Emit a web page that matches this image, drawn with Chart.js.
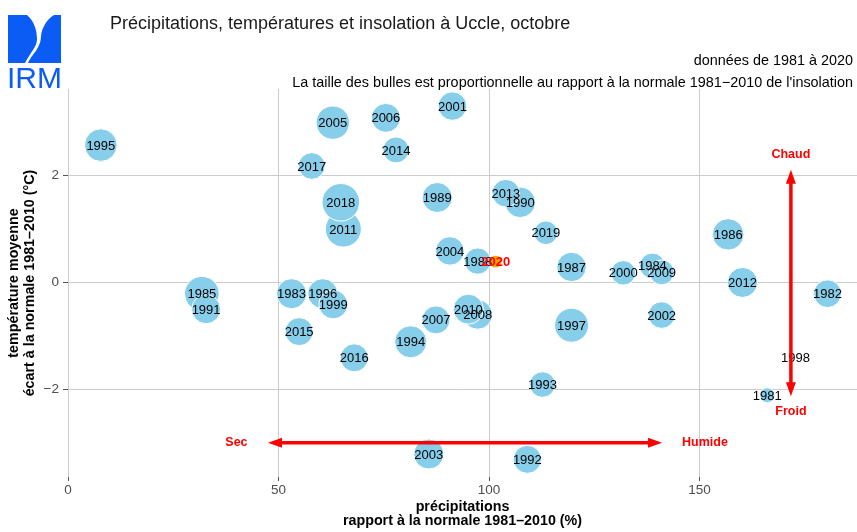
<!DOCTYPE html>
<html>
<head>
<meta charset="utf-8">
<script src="https://cdn.jsdelivr.net/npm/chart.js@4.4.0/dist/chart.umd.min.js"></script>
<style>
html, body { margin: 0; padding: 0; background: #fff; }
#wrap { position: relative; width: 857px; height: 532px; }
#chart { position: absolute; left: 0; top: 0; }
#head { position: absolute; left: 0; top: 0; pointer-events: none; }
</style>
</head>
<body>
<div id="wrap">
<canvas id="chart" width="857" height="532"></canvas>
<svg id="head" width="857" height="100" font-family="'Liberation Sans', Arial, sans-serif">
  <path d="M8,15 H27 C34,21 37,30 37,39 C37,47 30,53 25,63 H8 Z" fill="#0a5cf5"/>
  <path d="M61,15 V63 H28 C31,56 35,53 37,49 C40,44 41,40 41,36 C42,28 46,20 54,15 Z" fill="#0a5cf5"/>
  <text x="34.5" y="88" font-size="30" text-anchor="middle" fill="#0a5cf5">IRM</text>
  <text x="110" y="29" font-size="18" fill="#1a1a1a">Précipitations, températures et insolation à Uccle, octobre</text>
  <text x="853" y="65" font-size="14.4" text-anchor="end" fill="#000">données de 1981 à 2020</text>
  <text x="853" y="87" font-size="14.4" text-anchor="end" fill="#000">La taille des bulles est proportionnelle au rapport à la normale 1981−2010 de l'insolation</text>
</svg>
</div>
<script>
// octobre, Uccle : une bulle par année
var years = [1981, 1982, 1983, 1984, 1985, 1986, 1987, 1988, 1989, 1990,
             1991, 1992, 1993, 1994, 1995, 1996, 1997, 1998, 1999, 2000,
             2001, 2002, 2003, 2004, 2005, 2006, 2007, 2008, 2009, 2010,
             2011, 2012, 2013, 2014, 2015, 2016, 2017, 2018, 2019, 2020];
// précipitations, rapport à la normale (%)
var precip = [166.1, 180.4, 53.1, 138.8, 31.8, 156.8, 119.6, 97.3, 87.7, 107.4,
              32.8, 109.1, 112.7, 81.4, 7.8, 60.5, 119.6, 172.8, 63.0, 131.9,
              91.3, 141.0, 85.7, 90.7, 62.9, 75.5, 87.4, 97.3, 141.0, 95.1,
              65.4, 160.2, 104.0, 77.9, 54.9, 68.0, 57.9, 64.8, 113.5, 101.6];
// température moyenne, écart à la normale (°C)
var tempAnom = [-2.11, -0.21, -0.21, 0.31, -0.21, 0.90, 0.29, 0.40, 1.59, 1.50,
                -0.50, -3.31, -1.91, -1.11, 2.57, -0.21, -0.80, -1.41, -0.41, 0.18,
                3.30, -0.61, -3.21, 0.59, 2.99, 3.08, -0.70, -0.60, 0.19, -0.50,
                1.00, 0.00, 1.67, 2.48, -0.92, -1.41, 2.18, 1.50, 0.93, 0.39];
// insolation, rapport à la normale (%)
var insolRatio = [25, 85, 100, 73, 133, 110, 96, 77, 100, 104,
                  93, 87, 73, 114, 118, 100, 128, 0, 93, 67,
                  90, 79, 100, 90, 124, 93, 87, 96, 69, 100,
                  144, 100, 85, 75, 87, 87, 79, 157, 62, 18];

var xTicks = [0, 50, 100, 150];
var yTicks = [-2, 0, 2];

// flèches Sec/Humide et Froid/Chaud (en unités des axes)
var arrowPrecipX = [47.5, 141.1];
var arrowPrecipY = -3;
var arrowTempX = 171.7;
var arrowTempY = [-2.13, 2.11];
var arrowLabels = ['Sec', 'Humide', 'Froid', 'Chaud'];
var arrowLabelX = [40, 151.3, 171.7, 171.7];
var arrowLabelY = [-3, -3, -2.42, 2.4];

var FONT = '"Liberation Sans", Arial, Helvetica, sans-serif';
Chart.defaults.font.family = FONT;

var bubbles = years.map(function (yr, i) {
    return { x: precip[i], y: tempAnom[i], r: 1.5 * Math.sqrt(insolRatio[i]) };
});

var yearLabels = {
    id: 'yearLabels',
    afterDatasetsDraw: function (chart) {
        var ctx = chart.ctx;
        var meta = chart.getDatasetMeta(0);
        ctx.save();
        ctx.textAlign = 'center';
        ctx.textBaseline = 'middle';
        meta.data.forEach(function (el, i) {
            var current = years[i] === 2020;
            ctx.font = (current ? 'bold ' : '') + '13px ' + FONT;
            ctx.fillStyle = current ? '#ff0000' : '#000000';
            ctx.fillText(String(years[i]), el.x, el.y + 1);
        });
        ctx.restore();
    }
};

function drawHead(ctx, x, y, dx, dy) {
    // pointe en (x,y), direction (dx,dy)
    var len = 14, half = 5;
    ctx.beginPath();
    ctx.moveTo(x, y);
    ctx.lineTo(x - dx * len - dy * half, y - dy * len + dx * half);
    ctx.lineTo(x - dx * len + dy * half, y - dy * len - dx * half);
    ctx.closePath();
    ctx.fill();
}

var arrows = {
    id: 'arrows',
    afterDraw: function (chart) {
        var ctx = chart.ctx;
        var xs = chart.scales.x, ys = chart.scales.y;
        ctx.save();
        ctx.strokeStyle = '#ff0000';
        ctx.fillStyle = '#ff0000';
        ctx.lineWidth = 3.5;

        var hx1 = xs.getPixelForValue(arrowPrecipX[0]);
        var hx2 = xs.getPixelForValue(arrowPrecipX[1]);
        var hy = ys.getPixelForValue(arrowPrecipY);
        ctx.beginPath();
        ctx.moveTo(hx1 + 10, hy);
        ctx.lineTo(hx2 - 10, hy);
        ctx.stroke();
        drawHead(ctx, hx1, hy, -1, 0);
        drawHead(ctx, hx2, hy, 1, 0);

        var vx = xs.getPixelForValue(arrowTempX);
        var vy1 = ys.getPixelForValue(arrowTempY[0]);
        var vy2 = ys.getPixelForValue(arrowTempY[1]);
        ctx.beginPath();
        ctx.moveTo(vx, vy1 - 10);
        ctx.lineTo(vx, vy2 + 10);
        ctx.stroke();
        drawHead(ctx, vx, vy1, 0, 1);
        drawHead(ctx, vx, vy2, 0, -1);

        ctx.font = 'bold 12.5px ' + FONT;
        ctx.textAlign = 'center';
        ctx.textBaseline = 'middle';
        arrowLabels.forEach(function (t, i) {
            ctx.fillText(t, xs.getPixelForValue(arrowLabelX[i]), ys.getPixelForValue(arrowLabelY[i]));
        });
        ctx.restore();
    }
};

var config = {
    type: 'bubble',
    data: {
        datasets: [{
            data: bubbles,
            backgroundColor: years.map(function (yr) { return yr === 2020 ? '#ffa500' : '#87ceeb'; }),
            borderColor: '#ffffff',
            borderWidth: insolRatio.map(function (v) { return v > 0 ? 1 : 0; }),
            hoverRadius: 0,
            clip: false
        }]
    },
    options: {
        responsive: false,
        devicePixelRatio: 1,
        animation: false,
        events: [],
        layout: { autoPadding: false, padding: { top: 89, right: 0, left: 0, bottom: 0 } },
        plugins: {
            legend: { display: false },
            tooltip: { enabled: false }
        },
        scales: {
            x: {
                type: 'linear',
                min: 0,
                max: 187.4,
                afterBuildTicks: function (s) { s.ticks = xTicks.map(function (v) { return { value: v }; }); },
                afterFit: function (s) { s.height = 55; },
                grid: { color: '#cccccc', tickLength: 4, tickColor: '#555555' },
                border: { display: false },
                ticks: { padding: 1, color: '#4d4d4d', font: { size: 13.5 }, maxRotation: 0 },
                title: {
                    display: true,
                    text: ['précipitations', 'rapport à la normale 1981–2010 (%)'],
                    color: '#000',
                    font: { size: 14.3, weight: 'bold', lineHeight: '14px' },
                    padding: { top: 0, bottom: 4 }
                }
            },
            y: {
                type: 'linear',
                min: -3.64,
                max: 3.62,
                afterBuildTicks: function (s) { s.ticks = yTicks.map(function (v) { return { value: v }; }); },
                afterFit: function (s) { s.width = 68; },
                grid: { color: '#cccccc', tickLength: 5, tickColor: '#555555' },
                border: { display: false },
                ticks: {
                    padding: 4,
                    color: '#4d4d4d',
                    font: { size: 13.5 },
                    callback: function (v) { return v < 0 ? '\u2212' + Math.abs(v) : String(v); }
                },
                title: {
                    display: true,
                    text: ['température moyenne', 'écart à la normale 1981–2010 (°C)'],
                    color: '#000',
                    font: { size: 14.3, weight: 'bold', lineHeight: '16px' },
                    padding: { top: 6, bottom: 0 }
                }
            }
        }
    },
    plugins: [yearLabels, arrows]
};

var myChart = new Chart(document.getElementById('chart').getContext('2d'), config);
</script>
</body>
</html>
